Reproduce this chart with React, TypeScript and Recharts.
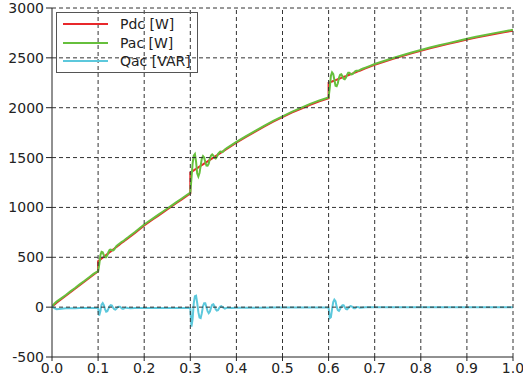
import React from 'react';
import { LineChart, Line, XAxis, YAxis, ReferenceLine, Legend } from 'recharts';

const time = [
  0, 0.005, 0.01, 0.02, 0.03, 0.04, 0.05, 0.06, 0.07, 0.08, 0.09, 0.1,
  0.1, 0.1025, 0.105, 0.1075, 0.11, 0.1125, 0.115, 0.1175, 0.12, 0.1225, 0.125, 0.1275, 0.13, 0.1325, 0.135, 0.1375, 0.14, 0.1425, 0.145, 0.1475, 0.15, 0.1525, 0.155, 0.1575, 0.16, 0.165, 0.17,
  0.18, 0.19, 0.2, 0.21, 0.22, 0.23, 0.24, 0.25, 0.26, 0.27, 0.28, 0.29, 0.3,
  0.3, 0.3025, 0.305, 0.3075, 0.31, 0.3125, 0.315, 0.3175, 0.32, 0.3225, 0.325, 0.3275, 0.33, 0.3325, 0.335, 0.3375, 0.34, 0.3425, 0.345, 0.3475, 0.35, 0.3525, 0.355, 0.3575, 0.36, 0.3625, 0.365, 0.3675, 0.37, 0.375, 0.38, 0.39,
  0.4, 0.42, 0.44, 0.46, 0.48, 0.5, 0.52, 0.54, 0.56, 0.58, 0.6,
  0.6, 0.6025, 0.605, 0.6075, 0.61, 0.6125, 0.615, 0.6175, 0.62, 0.6225, 0.625, 0.6275, 0.63, 0.6325, 0.635, 0.6375, 0.64, 0.6425, 0.645, 0.6475, 0.65, 0.6525, 0.655, 0.6575, 0.66, 0.6625, 0.665, 0.6675, 0.67, 0.675, 0.68, 0.69, 0.7,
  0.72, 0.74, 0.76, 0.78, 0.8, 0.82, 0.84, 0.86, 0.88, 0.9, 0.92, 0.94, 0.96, 0.98, 1.0,
];

const pdc = [
  0, 25, 45, 80, 115, 150, 185, 220, 255, 290, 325, 360,
  460, 469, 478, 487, 496, 505, 514, 523, 532, 541, 550, 559, 568, 577, 586, 595, 604, 613, 622, 631, 640, 649, 657, 666, 675, 692, 710,
  745, 782, 820, 852, 884, 916, 948, 980, 1012, 1044, 1076, 1108, 1140,
  1350, 1357, 1365, 1372, 1380, 1387, 1395, 1402, 1410, 1417, 1425, 1432, 1440, 1447, 1455, 1462, 1470, 1477, 1485, 1492, 1500, 1507, 1515, 1522, 1530, 1537, 1545, 1552, 1560, 1575, 1590, 1620,
  1650, 1705, 1758, 1810, 1860, 1905, 1950, 1990, 2030, 2065, 2095,
  2250, 2254, 2259, 2263, 2268, 2272, 2277, 2281, 2286, 2290, 2295, 2299, 2304, 2308, 2313, 2317, 2322, 2326, 2331, 2335, 2340, 2344, 2349, 2353, 2358, 2362, 2367, 2371, 2376, 2385, 2394, 2412, 2430,
  2460, 2490, 2518, 2545, 2570, 2595, 2618, 2640, 2662, 2683, 2703, 2722, 2740, 2757, 2773,
];

const pac = [
  5, 35, 55, 88, 122, 158, 192, 228, 262, 298, 333, 362,
  362, 430, 520, 555, 550, 520, 500, 500, 522, 555, 575, 578, 570, 568, 578, 598, 614, 624, 632, 641, 650, 658, 665, 674, 684, 701, 719,
  754, 791, 829, 861, 893, 925, 957, 989, 1021, 1053, 1085, 1117, 1148,
  1148, 1290, 1440, 1520, 1535, 1460, 1340, 1310, 1345, 1420, 1490, 1515, 1500, 1455, 1420, 1418, 1440, 1490, 1520, 1532, 1520, 1495, 1490, 1505, 1535, 1550, 1560, 1558, 1555, 1582, 1598, 1628,
  1658, 1713, 1766, 1818, 1868, 1913, 1958, 1998, 2038, 2073, 2103,
  2103, 2200, 2320, 2355, 2340, 2280, 2220, 2215, 2245, 2300, 2330, 2335, 2315, 2290, 2285, 2300, 2330, 2350, 2350, 2340, 2335, 2340, 2352, 2365, 2370, 2370, 2372, 2378, 2384, 2393, 2402, 2420, 2438,
  2468, 2498, 2526, 2553, 2578, 2603, 2626, 2648, 2670, 2691, 2711, 2730, 2748, 2765, 2781,
];

const qac = [
  10, -10, -20, -15, -12, -10, -10, -9, -9, -8, -8, -8,
  -8, -85, -40, 25, 40, 20, -20, -45, -40, -15, 10, 20, 15, -5, -20, -25, -15, 0, 5, 5, -5, -15, -15, -10, -5, -8, -10,
  -9, -9, -8, -8, -8, -8, -8, -8, -8, -8, -8, -8, -8,
  -8, -195, -120, 40, 110, 115, 40, -50, -105, -110, -60, 10, 40, 40, 0, -40, -60, -45, -5, 25, 30, 10, -20, -35, -30, -10, 5, 10, 0, -15, -5, -8,
  -6, -5, -5, -5, -4, -4, -4, -4, -3, -3, -3,
  -3, -110, -100, -20, 50, 75, 60, 5, -30, -38, -20, 5, 18, 18, 0, -18, -22, -12, 2, 10, 8, -2, -10, -10, -3, 2, 0, -5, -5, -3, -2, -1, 0,
  0, 0, 0, 0, 0, 0, 0, 0, 0, 0, 0, 0, 0, 0, 0,
];

const seriesNames = ['Pdc [W]', 'Pac [W]', 'Qac [VAR]'];
const seriesColors = ['#e8282b', '#66bf3c', '#5cc8dc'];

const xMajor = [0, 0.1, 0.2, 0.3, 0.4, 0.5, 0.6, 0.7, 0.8, 0.9, 1.0];
const xMinor = [0.05, 0.15, 0.25, 0.35, 0.45, 0.55, 0.65, 0.75, 0.85, 0.95];
const yMajor = [-500, 0, 500, 1000, 1500, 2000, 2500, 3000];
const yMinor = [-333, -167, 167, 333, 667, 833, 1167, 1333, 1667, 1833, 2167, 2333, 2667, 2833];

const data = time.map((t, i) => ({ t, pdc: pdc[i], pac: pac[i], qac: qac[i] }));

const FONT = 'DejaVu Sans';
const tickStyle = { fill: '#222', fontSize: 14, fontFamily: FONT };

const renderLegend = (props: any) => {
  const payload = [...(props.payload || [])].sort(
    (a: any, b: any) => seriesNames.indexOf(a.value) - seriesNames.indexOf(b.value)
  );
  return (
    <div
      style={{
        boxSizing: 'border-box',
        width: 142,
        height: 61,
        border: '1px solid #555',
        paddingTop: 2,
        fontFamily: FONT,
        fontSize: 14,
        color: '#222',
      }}
    >
      {payload.map((entry: any, i: number) => (
        <div key={i} style={{ height: 18.5, display: 'flex', alignItems: 'center' }}>
          <svg width={57} height={18} style={{ display: 'block' }}>
            <line x1={6} x2={51} y1={9} y2={9} stroke={entry.color} strokeWidth={2} />
          </svg>
          <span style={{ marginLeft: 6, lineHeight: '18px', whiteSpace: 'nowrap' }}>{entry.value}</span>
        </div>
      ))}
    </div>
  );
};

export default function App() {
  return (
    <div style={{ position: 'absolute', left: 0, top: 0, background: '#fff' }}>
      <LineChart width={523} height={385} data={data} margin={{ top: 8, right: 10, bottom: 0, left: 0 }}>
        <XAxis
          xAxisId="x"
          dataKey="t"
          type="number"
          domain={[0, 1]}
          ticks={xMajor}
          interval={0}
          allowDataOverflow
          tickFormatter={(v: number) => v.toFixed(1)}
          height={28}
          tickSize={4}
          tickMargin={2}
          stroke="#222"
          tick={tickStyle}
        />
        <XAxis
          xAxisId="xin"
          dataKey="t"
          type="number"
          domain={[0, 1]}
          ticks={[...xMajor, ...xMinor]}
          interval={0}
          allowDataOverflow
          mirror
          axisLine={false}
          tick={false}
          tickSize={2}
          stroke="#222"
        />
        <XAxis
          xAxisId="xout"
          dataKey="t"
          type="number"
          domain={[0, 1]}
          ticks={xMinor}
          interval={0}
          allowDataOverflow
          mirror
          axisLine={false}
          tick={false}
          tickSize={-3}
          stroke="#222"
        />
        <YAxis
          yAxisId="y"
          type="number"
          domain={[-500, 3000]}
          ticks={yMajor}
          interval={0}
          allowDataOverflow
          width={52}
          tickSize={6}
          tickMargin={2}
          stroke="#222"
          tick={tickStyle}
        />
        <YAxis
          yAxisId="yin"
          type="number"
          domain={[-500, 3000]}
          ticks={[...yMajor, ...yMinor]}
          interval={0}
          allowDataOverflow
          mirror
          axisLine={false}
          tick={false}
          tickSize={2}
          stroke="#222"
        />
        <YAxis
          yAxisId="yout"
          type="number"
          domain={[-500, 3000]}
          ticks={yMinor}
          interval={0}
          allowDataOverflow
          mirror
          axisLine={false}
          tick={false}
          tickSize={-3}
          stroke="#222"
        />
        <Line xAxisId="x" yAxisId="y" type="linear" dataKey="pdc" name={seriesNames[0]} stroke={seriesColors[0]} strokeWidth={2} dot={false} isAnimationActive={false} />
        <Line xAxisId="x" yAxisId="y" type="linear" dataKey="pac" name={seriesNames[1]} stroke={seriesColors[1]} strokeWidth={2} dot={false} isAnimationActive={false} />
        <Line xAxisId="x" yAxisId="y" type="linear" dataKey="qac" name={seriesNames[2]} stroke={seriesColors[2]} strokeWidth={2} dot={false} isAnimationActive={false} />
        {yMajor.filter((v) => v > -500).map((v) => (
          <ReferenceLine key={'gy' + v} xAxisId="x" yAxisId="y" y={v} stroke="#333" strokeDasharray="4 3" />
        ))}
        {xMajor.filter((v) => v > 0).map((v) => (
          <ReferenceLine key={'gx' + v} xAxisId="x" yAxisId="y" x={v} stroke="#333" strokeDasharray="4 3" />
        ))}
        <Legend
          layout="horizontal"
          verticalAlign="middle"
          align="center"
          itemSorter={null as any}
          wrapperStyle={{ left: 56, top: 12, width: 142, height: 61 }}
          content={renderLegend}
        />
      </LineChart>
    </div>
  );
}
